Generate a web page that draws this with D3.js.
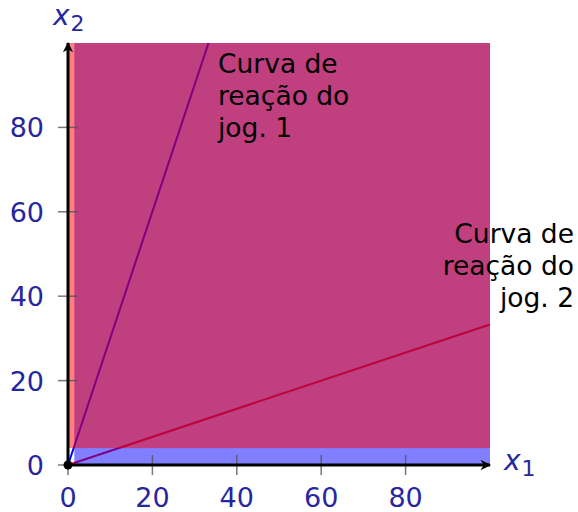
<!DOCTYPE html>
<html>
<head>
<meta charset="utf-8">
<script src="https://cdn.jsdelivr.net/npm/d3@7"></script>
<style>
  body { margin: 0; background: #fff; }
  svg { display: block; font-family: "DejaVu Sans", sans-serif; }
</style>
</head>
<body>
<div id="visArea"></div>
<script>

// tick values on both axes
var ticksX = [0, 20, 40, 60, 80];
var ticksY = [0, 20, 40, 60, 80];

// shaded regions [x0, x1, y0, y1]
var regionBlue = [1.5, 100, 0, 100];
var regionRed = [0, 100, 4, 100];

// reaction curves
var curveJog1 = [[0, 0], [33.3, 100]];
var curveJog2 = [[0, 0], [100, 33.3]];

var labelJog1 = ['Curva de', 'reação do', 'jog. 1'];
var labelJog2 = ['Curva de', 'reação do', 'jog. 2'];

function drawChart(){
  var w = 578, h = 512;
  var labCol = '#2626a0';

  var svg = d3.select('#visArea')
              .append('svg')
              .attr('width', w)
              .attr('height', h);

  var x = d3.scaleLinear().domain([0, 100]).range([68, 490]);
  var y = d3.scaleLinear().domain([0, 100]).range([465, 43]);

  var line = d3.line()
               .x(function(d){ return x(d[0]); })
               .y(function(d){ return y(d[1]); });

  // curves go under the fills
  svg.append('path').attr('d', line(curveJog1))
     .attr('fill', 'none').attr('stroke', '#0000ff').attr('stroke-width', 2);
  svg.append('path').attr('d', line(curveJog2))
     .attr('fill', 'none').attr('stroke', '#ff0000').attr('stroke-width', 2);

  function region(r, col){
    svg.append('rect')
       .attr('x', x(r[0]))
       .attr('y', y(r[3]))
       .attr('width', x(r[1]) - x(r[0]))
       .attr('height', y(r[2]) - y(r[3]))
       .attr('fill', col)
       .attr('fill-opacity', 0.5);
  }
  region(regionBlue, '#0000ff');
  region(regionRed, '#ff0000');

  // ticks crossing the axes
  var tk = svg.append('g').attr('class', 'ticks');
  tk.selectAll('line.tx')
    .data(ticksX)
    .enter()
    .append('line')
    .attr('x1', function(d){ return x(d); })
    .attr('x2', function(d){ return x(d); })
    .attr('y1', y(0) - 10)
    .attr('y2', y(0) + 10)
    .style('stroke', '#555')
    .style('stroke-opacity', 0.8)
    .style('stroke-width', 1.5);
  tk.selectAll('line.ty')
    .data(ticksY)
    .enter()
    .append('line')
    .attr('y1', function(d){ return y(d); })
    .attr('y2', function(d){ return y(d); })
    .attr('x1', x(0) - 10)
    .attr('x2', x(0) + 10)
    .style('stroke', '#555')
    .style('stroke-opacity', 0.8)
    .style('stroke-width', 1.5);

  // axes with arrows
  var defs = svg.append('defs');
  defs.append('marker')
      .attr('id', 'arrow')
      .attr('viewBox', '0 0 10 10')
      .attr('refX', 9).attr('refY', 5)
      .attr('markerWidth', 4).attr('markerHeight', 3.5)
      .attr('markerUnits', 'strokeWidth')
      .attr('orient', 'auto')
      .append('path')
      .attr('d', 'M0,0 L10,5 L0,10 L3,5 Z')
      .attr('fill', '#000');

  svg.append('line')
     .attr('x1', x(0)).attr('y1', y(0))
     .attr('x2', x(100)).attr('y2', y(0))
     .attr('stroke', '#000').attr('stroke-width', 3)
     .attr('marker-end', 'url(#arrow)');
  svg.append('line')
     .attr('x1', x(0)).attr('y1', y(0))
     .attr('x2', x(0)).attr('y2', y(100))
     .attr('stroke', '#000').attr('stroke-width', 3)
     .attr('marker-end', 'url(#arrow)');

  svg.append('circle')
     .attr('cx', x(0)).attr('cy', y(0)).attr('r', 4.5)
     .attr('fill', '#000');

  // tick labels
  svg.append('g').selectAll('text')
    .data(ticksX)
    .enter()
    .append('text')
    .attr('x', function(d){ return x(d); })
    .attr('y', 507)
    .text(function(d){ return d; })
    .style('text-anchor', 'middle')
    .style('font-size', '27px')
    .style('fill', labCol);
  svg.append('g').selectAll('text')
    .data(ticksY)
    .enter()
    .append('text')
    .attr('x', 44)
    .attr('y', function(d){ return y(d) + 10; })
    .text(function(d){ return d; })
    .style('text-anchor', 'end')
    .style('font-size', '27px')
    .style('fill', labCol);

  // axis titles
  function axisTitle(px, py, sub){
    var t = svg.append('text')
               .attr('x', px).attr('y', py)
               .style('font-size', '28px')
               .style('fill', labCol);
    t.append('tspan').text('x').style('font-style', 'italic');
    t.append('tspan').text(sub).attr('dy', 6).attr('dx', 1).style('font-size', '22px');
  }
  axisTitle(504, 470, '1');
  axisTitle(53, 25, '2');

  // curve annotations
  function annot(lines, px, py, anchor){
    svg.append('g').selectAll('text')
       .data(lines)
       .enter()
       .append('text')
       .attr('x', px)
       .attr('y', function(d, i){ return py + i * 32; })
       .text(function(d){ return d; })
       .style('text-anchor', anchor)
       .style('font-size', '26.5px')
       .style('fill', '#000');
  }
  annot(labelJog1, 218, 73, 'start');
  annot(labelJog2, 574, 243, 'end');
}

drawChart();
</script>
</body>
</html>
